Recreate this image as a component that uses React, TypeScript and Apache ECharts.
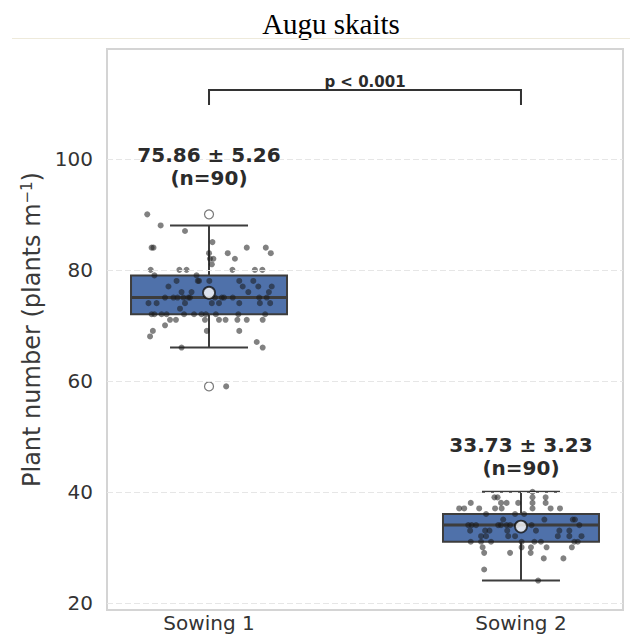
import React, { useEffect, useRef } from "react";
import * as echarts from "echarts";

const titleText = "Augu skaits";
const categories = ["Sowing 1", "Sowing 2"];
const whiskerLow = [66, 24];
const q1 = [72, 31];
const median = [75, 34];
const q3 = [79, 36];
const whiskerHigh = [88, 40];
const means = [75.86, 33.73];
const sds = [5.26, 3.23];
const counts = [90, 90];
const outliers: [number, number][] = [
  [0, 90],
  [0, 59],
];
const yTicks = [20, 40, 60, 80, 100];
const statLabelY = [94.4, 42.3];
const pLabel = "p < 0.001";
const bracketY = 112.4;
const bracketDrop = 2.7;

// [jitter offset from category centre, value]
const points1: [number, number][] = [
  [-0.198, 90], [-0.155, 88], [-0.077, 87], [0.011, 85],
  [-0.184, 84], [-0.178, 84], [0.121, 84], [0.182, 84],
  [0.0, 83], [0.06, 83], [0.198, 83],
  [0.014, 82], [0.083, 82], [0.003, 82], [0.009, 81],
  [-0.187, 80], [-0.095, 80], [-0.072, 80], [0.075, 80], [0.147, 80], [0.171, 80],
  [-0.175, 79], [-0.04, 79],
  [-0.104, 78], [-0.032, 78], [0.001, 78], [0.097, 78], [0.142, 78], [-0.036, 78],
  [-0.13, 77], [0.108, 77], [0.158, 77], [0.201, 77],
  [-0.056, 76], [-0.088, 76], [0.126, 76], [0.192, 76],
  [-0.141, 75], [-0.114, 75], [-0.101, 75], [-0.082, 75], [-0.066, 75], [-0.061, 75],
  [0.019, 75], [0.041, 75], [0.048, 75], [0.076, 75], [0.161, 75], [0.185, 75],
  [-0.194, 74], [-0.168, 74], [-0.077, 74], [0.009, 74], [0.032, 74], [0.097, 74], [0.163, 74], [0.196, 74],
  [-0.093, 73],
  [-0.184, 72], [-0.175, 72], [-0.152, 72], [-0.136, 72], [-0.08, 72], [-0.048, 72],
  [-0.024, 72], [-0.01, 72], [0.022, 72], [0.094, 72], [0.18, 72],
  [-0.125, 71], [-0.106, 71], [-0.013, 71], [0.032, 71], [0.053, 71], [0.091, 71], [0.121, 71], [0.172, 71],
  [-0.141, 70],
  [-0.18, 69], [-0.007, 69], [0.097, 69],
  [-0.189, 68], [0.153, 67], [0.172, 66], [-0.088, 66], [0.055, 59],
];
const points2: [number, number][] = [
  [0.037, 40],
  [-0.085, 39], [-0.075, 39], [0.037, 39], [0.079, 39],
  [-0.161, 38], [-0.064, 38], [-0.046, 38], [-0.009, 38], [0.037, 38], [0.079, 38],
  [-0.198, 37], [-0.182, 37], [-0.134, 37], [-0.083, 37], [-0.062, 37], [0.037, 37], [0.095, 37], [0.125, 37],
  [-0.112, 36], [-0.019, 36], [0.01, 36],
  [-0.057, 35], [0.075, 35], [0.166, 35], [0.173, 35],
  [-0.169, 34], [-0.158, 34], [-0.144, 34], [-0.073, 34], [-0.064, 34], [-0.046, 34],
  [-0.035, 34], [-0.012, 34], [0.034, 34], [0.187, 34],
  [-0.163, 33], [-0.115, 33], [-0.101, 33], [-0.044, 33], [0.048, 33], [0.123, 33], [0.155, 33],
  [-0.128, 32], [-0.112, 32], [-0.041, 32], [-0.019, 32], [0.118, 32], [0.155, 32], [0.194, 32],
  [-0.161, 31], [-0.128, 31], [-0.096, 31], [0.002, 31], [0.043, 31], [0.064, 31], [0.171, 31], [0.182, 31],
  [-0.123, 30], [0.002, 30], [0.032, 30], [0.082, 30], [0.163, 30],
  [-0.118, 29], [-0.035, 29], [0.031, 29],
  [0.073, 28], [0.136, 28],
  [-0.118, 26], [0.055, 24],
];

const FONT = "DejaVu Sans";
const EDGE = "#3d3d3d";
const BOX_FILL = "#4f71aa";

export default function App() {
  const ref = useRef<HTMLDivElement>(null);
  useEffect(() => {
    document.body.style.margin = "0";
    if (!ref.current) return;
    const chart = echarts.init(ref.current, undefined, { renderer: "svg" });

    const stripData = [
      ...points1.map(([dx, v]) => [0 + dx, v]),
      ...points2.map(([dx, v]) => [1 + dx, v]),
    ];

    const option: any = {
      animation: false,
      backgroundColor: "#ffffff",
      graphic: [
        {
          type: "text",
          x: 331,
          y: 9,
          style: {
            text: titleText,
            font: '29px "Liberation Serif"',
            fill: "#000",
            textAlign: "center",
            textVerticalAlign: "top",
          },
        },
        {
          type: "line",
          shape: { x1: 12, y1: 38.5, x2: 630, y2: 38.5 },
          style: { stroke: "#eeeadb", lineWidth: 1 },
        },
      ],
      grid: {
        left: 107,
        right: 7,
        top: 49,
        bottom: 34,
        show: true,
        borderColor: "#d4d4d4",
        borderWidth: 2,
        backgroundColor: "#fff",
      },
      xAxis: {
        type: "value",
        min: -0.327,
        max: 1.327,
        axisLine: { show: false },
        axisTick: { show: false },
        splitLine: { show: false },
        axisLabel: {
          customValues: [0, 1],
          formatter: (v: number) => categories[Math.round(v)] ?? "",
          fontFamily: FONT,
          fontSize: 20,
          color: "#333",
          margin: 3,
        },
      },
      yAxis: {
        type: "value",
        min: 18.7,
        max: 119.8,
        axisLine: { show: false },
        axisTick: { show: false },
        splitLine: { show: false },
        axisLabel: {
          customValues: yTicks,
          fontFamily: FONT,
          fontSize: 20,
          color: "#333",
          margin: 14,
        },
        name: "Plant number (plants m{sup|−1})",
        nameLocation: "middle",
        nameGap: 57,
        nameRotate: 90,
        nameTextStyle: {
          fontFamily: FONT,
          fontSize: 24,
          color: "#3a3a3a",
          rich: {
            sup: { fontFamily: FONT, fontSize: 15, color: "#3a3a3a", padding: [0, 0, 10, 0] },
          },
        },
      },
      series: [
        {
          type: "scatter",
          data: [],
          z: 1,
          silent: true,
          markLine: {
            silent: true,
            symbol: "none",
            label: { show: false },
            lineStyle: { color: "#e6e6e6", type: [6, 3], width: 1 },
            data: yTicks.map((v) => ({ yAxis: v })),
          },
        },
        {
          type: "custom",
          z: 2,
          data: categories.map((_, i) => [i, whiskerLow[i], q1[i], median[i], q3[i], whiskerHigh[i]]),
          encode: { x: 0, y: [1, 2, 3, 4, 5] },
          renderItem: (_params: any, api: any) => {
            const i = api.value(0);
            const pLow = api.coord([i, api.value(1)]);
            const pQ1 = api.coord([i, api.value(2)]);
            const pMed = api.coord([i, api.value(3)]);
            const pQ3 = api.coord([i, api.value(4)]);
            const pHigh = api.coord([i, api.value(5)]);
            const xL = api.coord([i - 0.25, 50])[0];
            const xR = api.coord([i + 0.25, 50])[0];
            const cL = api.coord([i - 0.125, 50])[0];
            const cR = api.coord([i + 0.125, 50])[0];
            const st = { stroke: EDGE, lineWidth: 2 };
            return {
              type: "group",
              children: [
                { type: "line", shape: { x1: pLow[0], y1: pLow[1], x2: pQ1[0], y2: pQ1[1] }, style: st },
                { type: "line", shape: { x1: pQ3[0], y1: pQ3[1], x2: pHigh[0], y2: pHigh[1] }, style: st },
                { type: "line", shape: { x1: cL, y1: pLow[1], x2: cR, y2: pLow[1] }, style: st },
                { type: "line", shape: { x1: cL, y1: pHigh[1], x2: cR, y2: pHigh[1] }, style: st },
                {
                  type: "rect",
                  shape: { x: xL, y: pQ3[1], width: xR - xL, height: pQ1[1] - pQ3[1] },
                  style: { fill: BOX_FILL, stroke: EDGE, lineWidth: 2 },
                },
                { type: "line", shape: { x1: xL, y1: pMed[1], x2: xR, y2: pMed[1] }, style: { stroke: EDGE, lineWidth: 3 } },
              ],
            };
          },
        },
        {
          type: "scatter",
          z: 3,
          data: outliers,
          symbol: "circle",
          symbolSize: 9,
          itemStyle: { color: "#ffffff", borderColor: "#555", borderWidth: 1.2 },
        },
        {
          type: "scatter",
          z: 4,
          data: stripData,
          symbol: "circle",
          symbolSize: 6,
          itemStyle: { color: "#1a1a1a", opacity: 0.55 },
        },
        {
          type: "scatter",
          z: 5,
          data: means.map((m, i) => [i, m]),
          symbol: "circle",
          symbolSize: 12,
          itemStyle: { color: "#ffffff", borderColor: "#111", borderWidth: 1.8 },
        },
        {
          type: "custom",
          z: 6,
          data: categories.map((_, i) => [i, statLabelY[i]]),
          renderItem: (_params: any, api: any) => {
            const i = api.value(0);
            const p = api.coord([i, api.value(1)]);
            return {
              type: "text",
              x: p[0],
              y: p[1],
              style: {
                text: `${means[i].toFixed(2)} ± ${sds[i].toFixed(2)}\n(n=${counts[i]})`,
                font: `bold 20px "${FONT}"`,
                lineHeight: 23,
                fill: "#2b2b2b",
                textAlign: "center",
                textVerticalAlign: "bottom",
              },
            };
          },
        },
        {
          type: "custom",
          z: 6,
          data: [[0, 1]],
          renderItem: (_params: any, api: any) => {
            const a = api.value(0);
            const b = api.value(1);
            const p0 = api.coord([a, bracketY - bracketDrop]);
            const p1 = api.coord([a, bracketY]);
            const p2 = api.coord([b, bracketY]);
            const p3 = api.coord([b, bracketY - bracketDrop]);
            return {
              type: "group",
              children: [
                {
                  type: "polyline",
                  shape: { points: [p0, p1, p2, p3] },
                  style: { stroke: "#333", lineWidth: 2, fill: null },
                },
                {
                  type: "text",
                  x: (p1[0] + p2[0]) / 2,
                  y: p1[1] - 0.5,
                  style: {
                    text: pLabel,
                    font: `bold 15px "${FONT}"`,
                    fill: "#2b2b2b",
                    textAlign: "center",
                    textVerticalAlign: "bottom",
                  },
                },
              ],
            };
          },
        },
      ],
    };
    chart.setOption(option);
    return () => chart.dispose();
  }, []);
  return <div ref={ref} style={{ width: 630, height: 644 }} />;
}
